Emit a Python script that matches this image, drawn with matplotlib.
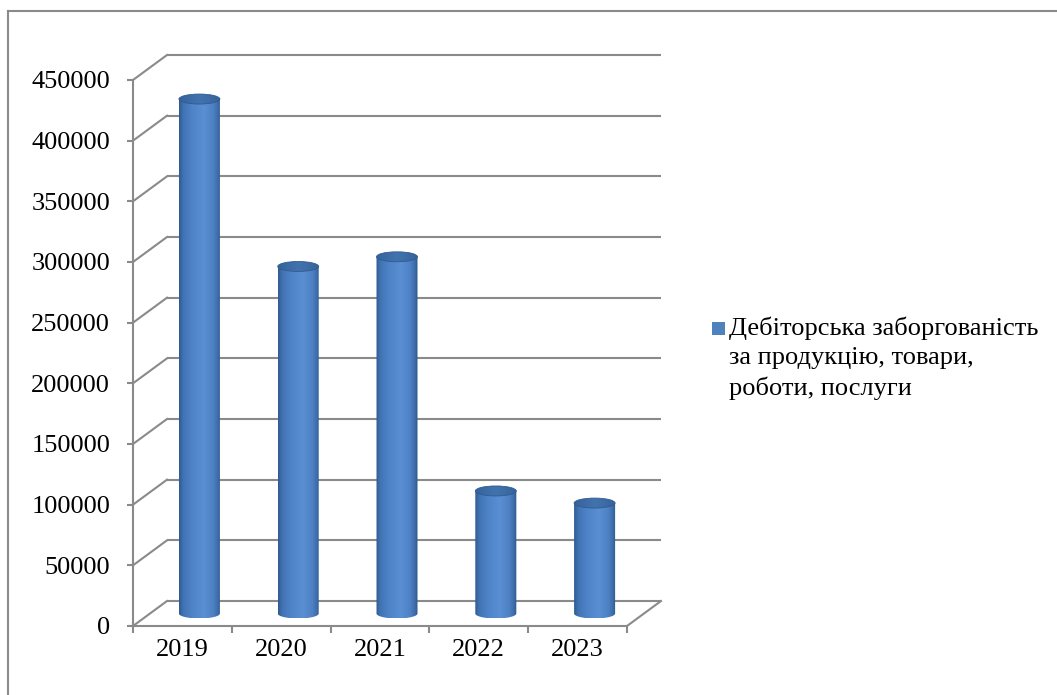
import numpy as np
import matplotlib
matplotlib.use('Agg')
import matplotlib.pyplot as plt
from matplotlib.patches import Ellipse, PathPatch, Rectangle
from matplotlib.path import Path
from matplotlib.colors import LinearSegmentedColormap
from matplotlib.lines import Line2D

# ---------------- data ----------------
years = ['2019', '2020', '2021', '2022', '2023']
values = [424000, 286000, 294000, 101000, 91000]
y_ticks = [0, 50000, 100000, 150000, 200000, 250000, 300000, 350000, 400000, 450000]
y_tick_labels = [str(v) for v in y_ticks]
series_label = 'Дебіторська заборгованість\nза продукцію, товари,\nроботи, послуги'

# ---------------- style ----------------
FONT = 'Liberation Serif'
FS = 19
GRID = '#8a8a8a'
W, H = 1057, 695
fig = plt.figure(figsize=(W / 100, H / 100), dpi=100)

# pixel geometry of the pseudo-3D box
left_px, right_px = 133, 661
bottom_px, top_px = 626, 55
ax = fig.add_axes([left_px / W, (H - bottom_px) / H,
                   (right_px - left_px) / W, (bottom_px - top_px) / H])
ax.patch.set_alpha(0)

ymax = y_ticks[-1]
ncat = len(years)
px_per_val = (bottom_px - 80) / ymax
cat_px = (627 - left_px) / ncat
DX = 34 / cat_px          # depth offset in category units
DY = 25 / px_per_val      # depth offset in value units
ax.set_xlim(0, ncat + DX)
ax.set_ylim(0, ymax + DY)

# back wall gridlines and side-wall diagonals
for v in y_ticks:
    ax.plot([DX, ncat + DX], [v + DY, v + DY], color=GRID, lw=1.5,
            solid_capstyle='butt', zorder=1, clip_on=False)
    ax.plot([0, DX], [v, v + DY], color=GRID, lw=1.5, zorder=1, clip_on=False)
# floor right edge
ax.plot([ncat, ncat + DX], [0, DY], color=GRID, lw=1.5, zorder=1, clip_on=False)

# spines / ticks
for s in ['top', 'right']:
    ax.spines[s].set_visible(False)
for s in ['left', 'bottom']:
    ax.spines[s].set_color(GRID)
    ax.spines[s].set_linewidth(1.5)
ax.spines['left'].set_bounds(0, ymax)
ax.spines['bottom'].set_bounds(0, ncat)

ax.set_yticks(y_ticks)
ax.set_yticklabels(y_tick_labels, fontfamily=FONT, fontsize=FS)
ax.tick_params(axis='y', length=4.5, width=1.5, color=GRID, pad=12)

ax.set_xticks(np.arange(ncat + 1))
ax.set_xticklabels([''] * (ncat + 1))
ax.set_xticks(np.arange(ncat) + 0.5, minor=True)
ax.set_xticklabels(years, minor=True, fontfamily=FONT, fontsize=FS)
ax.tick_params(axis='x', which='major', length=5, width=1.5, color=GRID, direction='out')
ax.tick_params(axis='x', which='minor', length=0, pad=9)

# cylinder gradient
cyl_cmap = LinearSegmentedColormap.from_list('cyl', [
    (0.0, '#2f5a90'), (0.10, '#4173b3'), (0.30, '#4e83c7'),
    (0.60, '#5a8fd3'), (0.82, '#4d81c4'), (0.93, '#3d6caa'), (1.0, '#2d5688')])
top_cmap = LinearSegmentedColormap.from_list('top', [
    (0.0, '#34629c'), (0.5, '#4373ae'), (1.0, '#35629b')])

half_w = 0.415 / 2
half_e = (10 / 2) / px_per_val
grad = np.linspace(0, 1, 256)[None, :]
t = np.linspace(np.pi, 2 * np.pi, 60)
for i, v in enumerate(values):
    cx = i + 0.5 + DX / 2
    base = DY / 2
    top = base + v
    verts = [(cx - half_w, top), (cx - half_w, base)]
    verts += [(cx + half_w * np.cos(a), base + half_e * np.sin(a)) for a in t]
    verts += [(cx + half_w, top), (cx - half_w, top)]
    path = Path(verts, closed=True)
    clip = PathPatch(path, facecolor='none', edgecolor='none', transform=ax.transData)
    ax.add_patch(clip)
    im = ax.imshow(grad, cmap=cyl_cmap, aspect='auto', interpolation='bilinear',
                   extent=[cx - half_w, cx + half_w, base - half_e, top],
                   zorder=3, clip_on=True)
    im.set_clip_path(clip)
    # top cap
    cap = Ellipse((cx, top), 2 * half_w, 2 * half_e, facecolor='none', edgecolor='none')
    ax.add_patch(cap)
    im2 = ax.imshow(grad, cmap=top_cmap, aspect='auto', interpolation='bilinear',
                    extent=[cx - half_w, cx + half_w, top - half_e, top + half_e], zorder=5)
    im2.set_clip_path(cap)
    ax.add_patch(Ellipse((cx, top), 2 * half_w, 2 * half_e, facecolor='none',
                         edgecolor='#315b8f', lw=0.6, zorder=6))

ax.set_xlim(0, ncat + DX)
ax.set_ylim(0, ymax + DY)

# outer chart border
fig.add_artist(Line2D([8 / W, 8 / W], [0, (H - 11) / H], transform=fig.transFigure,
                      color=GRID, lw=1.5))
fig.add_artist(Line2D([8 / W, 1], [(H - 11) / H, (H - 11) / H], transform=fig.transFigure,
                      color=GRID, lw=1.5))

# legend
fig.add_artist(Rectangle((712 / W, (H - 335) / H), 13 / W, 13 / H,
                         transform=fig.transFigure, facecolor='#4f81bd', edgecolor='none'))
fig.text(729 / W, (H - 317) / H, series_label, fontfamily=FONT, fontsize=FS,
         va='top', ha='left', linespacing=1.4)

fig.savefig('out.png', dpi=100)
